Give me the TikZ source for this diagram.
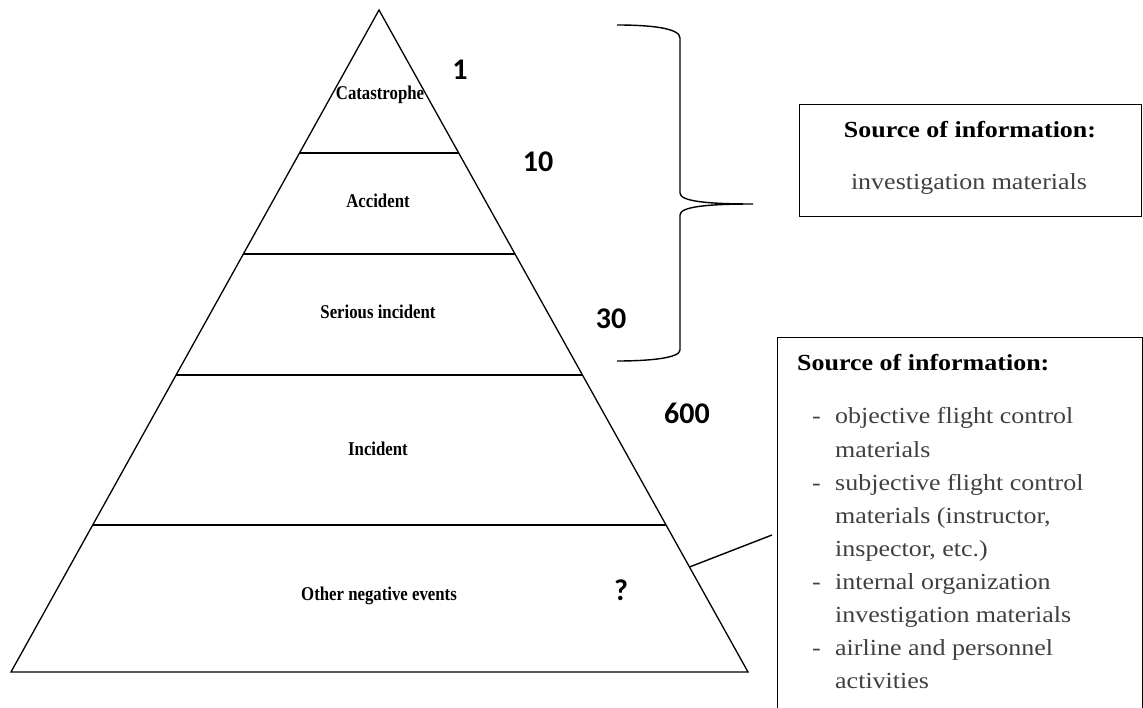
\documentclass[tikz,border=0pt]{standalone}
\usepackage{fontspec}
\setmainfont{Liberation Serif}
\newfontfamily\boxfont[FakeStretch=1.13]{Liberation Serif}
\newfontfamily\lvlfont[FakeStretch=0.86]{Liberation Serif}
\newfontfamily\numfont{Carlito}
\usetikzlibrary{calc}
\definecolor{bodygray}{HTML}{404040}
\tikzset{
  edge/.style={line width=1.3pt, black},
  lvl/.style={font=\fontsize{19.5}{22}\selectfont\lvlfont\bfseries, inner sep=0pt},
  num/.style={font=\fontsize{30}{33}\selectfont\numfont\bfseries, inner sep=0pt},
  boxhead/.style={font=\fontsize{23}{28}\selectfont\boxfont\bfseries, inner sep=0pt, anchor=base},
  boxbody/.style={font=\fontsize{23}{28}\selectfont\boxfont, text=bodygray, inner sep=0pt, anchor=base west},
  frame/.style={draw, line width=1.4pt}
}
\begin{document}
\begin{tikzpicture}[x=1pt,y=-1pt]
\useasboundingbox (0,0) rectangle (1143,708);
\clip (0,0) rectangle (1143,708);
% pyramid
\coordinate (apex) at (379,10);
\coordinate (bl) at (11,672);
\coordinate (br) at (748,672);
\draw[edge, line join=miter] (apex) -- (bl) -- (br) -- cycle;
\draw[edge] ($(apex)!0.2160!(bl)$) -- ($(apex)!0.2160!(br)$);
\draw[edge] ($(apex)!0.3686!(bl)$) -- ($(apex)!0.3686!(br)$);
\draw[edge] ($(apex)!0.5514!(bl)$) -- ($(apex)!0.5514!(br)$);
\draw[edge] ($(apex)!0.7779!(bl)$) -- ($(apex)!0.7779!(br)$);
% level labels
\node[lvl] (l1) at (380,95) {Catastrophe};
\node[lvl] (l2) at (378,201) {Accident};
\node[lvl] (l3) at (378,312) {Serious incident};
\node[lvl] (l4) at (378,449) {Incident};
\node[lvl] (l5) at (379,596) {Other negative events};
% numbers
\node[num] (n1) at (460,70) {1};
\node[num] (n2) at (538,162) {10};
\node[num] (n3) at (611,319) {30};
\node[num] (n4) at (687,413) {600};
\node[num] (n5) at (621,590) {?};
% brace
\draw[line width=1.4pt] (617,25) .. controls (650,25) and (680,28) .. (680,38)
  -- (680,193) .. controls (680,201) and (705,204) .. (753,204)
  .. controls (705,204) and (680,207) .. (680,215)
  -- (680,350) .. controls (680,358) and (650,361) .. (617,361);
% box 1
\node[frame, minimum width=342pt, minimum height=112pt, anchor=north west, inner sep=0pt] (b1) at (799,104) {};
\node[boxhead] (b1h) at (970,138) {Source of information:};
\node[boxbody, anchor=base] (b1t) at (969,190) {investigation materials};
% box 2
\node[frame, minimum width=365pt, minimum height=400pt, anchor=north west, inner sep=0pt] (b2) at (777,337) {};
\node[boxhead, anchor=base west] (b2h) at (797,371) {Source of information:};
\node[boxbody] (r1) at (812,424) {\makebox[23pt][l]{-}objective flight control};
\node[boxbody] (r2) at (812,457) {\hspace*{23pt}materials};
\node[boxbody] (r3) at (812,490) {\makebox[23pt][l]{-}subjective flight control};
\node[boxbody] (r4) at (812,523) {\hspace*{23pt}materials (instructor,};
\node[boxbody] (r5) at (812,556) {\hspace*{23pt}inspector, etc.)};
\node[boxbody] (r6) at (812,589) {\makebox[23pt][l]{-}internal organization};
\node[boxbody] (r7) at (812,622) {\hspace*{23pt}investigation materials};
\node[boxbody] (r8) at (812,655) {\makebox[23pt][l]{-}airline and personnel};
\node[boxbody] (r9) at (812,688) {\hspace*{23pt}activities};
% connector
\coordinate (pin) at ($(apex)!0.8414!(br)$);
\coordinate (pout) at (772,535);
\draw[line width=1.4pt] (pin) -- (pout);
\end{tikzpicture}
\end{document}
